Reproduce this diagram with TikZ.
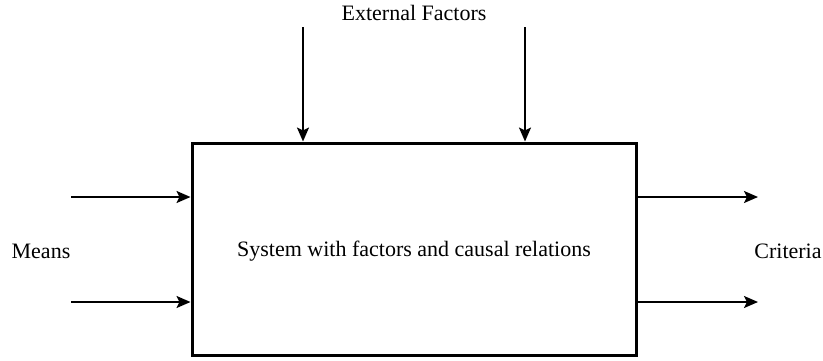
\documentclass[tikz,border=0pt]{standalone}
\usepackage{fontspec}
\setmainfont{Liberation Serif}
\usepackage{tikz}
\usetikzlibrary{positioning, arrows.meta}

\begin{document}
\begin{tikzpicture}[x=1pt, y=-1pt,
          sysbox/.style={rectangle, draw=black, line width=3pt, fill=white,
                         minimum width=444pt, minimum height=212pt,
                         text depth=0pt,
                         font=\fontsize{22}{24}\selectfont, align=center},
          lbl/.style={font=\fontsize{22}{24}\selectfont, inner sep=0pt},
          flow/.style={-{Stealth[length=14pt, width=12pt, inset=3pt]},
                       line width=2.2pt, black}
        ]
        \useasboundingbox (0,0) rectangle (823,360);
        % System box
        \node[sysbox] (sys) at (414,249) {System with factors and causal relations};
        % Labels
        \node[lbl] (ext)  at (414,13)  {External Factors};
        \node[lbl] (mean) at (41,251)  {Means};
        \node[lbl] (crit) at (788,251) {Criteria};

        % Free ends of the arrows
        \coordinate (ef1) at (303,27);
        \coordinate (ef2) at (525,27);
        \coordinate (mn1) at (71,197);
        \coordinate (mn2) at (71,302);
        \coordinate (cr1) at (758,197);
        \coordinate (cr2) at (758,302);

        % External factors into the system
        \draw[flow] (ef1) -- (ef1 |- sys.north);
        \draw[flow] (ef2) -- (ef2 |- sys.north);
        % Means into the system
        \draw[flow] (mn1) -- (mn1 -| sys.west);
        \draw[flow] (mn2) -- (mn2 -| sys.west);
        % Criteria out of the system
        \draw[flow] (cr1 -| sys.east) -- (cr1);
        \draw[flow] (cr2 -| sys.east) -- (cr2);
      \end{tikzpicture}
\end{document}
